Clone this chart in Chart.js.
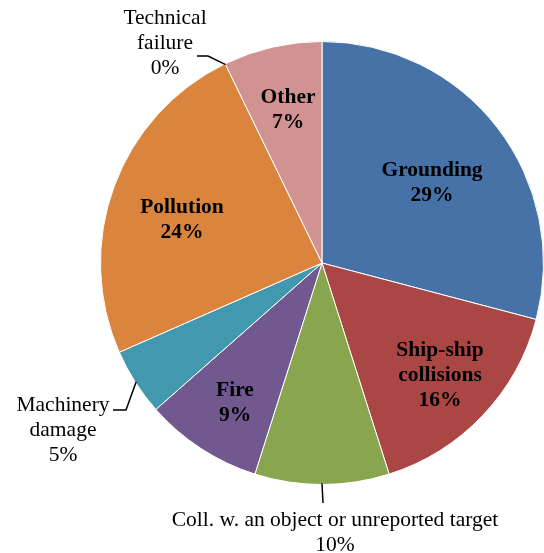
<!DOCTYPE html>
<html>
<head>
<meta charset="utf-8">
<script src="https://cdn.jsdelivr.net/npm/chart.js@4/dist/chart.umd.min.js"></script>
<style>
  html, body { margin: 0; padding: 0; background: #fff; }
  #wrap { width: 544px; height: 553px; position: relative; }
</style>
</head>
<body>
<div id="wrap"><canvas id="pieChart"></canvas></div>
<script>
const categories = ['Grounding', 'Ship-ship collisions', 'Coll. w. an object or unreported target', 'Fire', 'Machinery damage', 'Pollution', 'Technical failure', 'Other'];
const shares = [29.1, 16.0, 9.8, 8.6, 4.9, 24.4, 0, 7.2];
const sliceColors = ['#4672A8', '#AA4643', '#89A54E', '#71588F', '#4198AF', '#DB843D', '#93A9CF', '#D19392'];

// how each label is written: name lines, bold or not, and where it sits
const labelSpecs = [
    { lines: ['Grounding'], bold: true, at: [432, 170] },
    { lines: ['Ship-ship', 'collisions'], bold: true, at: [440, 350] },
    { lines: ['Coll. w. an object or unreported target'], bold: false, at: [335, 520], leader: [[323, 503]] },
    { lines: ['Fire'], bold: true, at: [235, 390] },
    { lines: ['Machinery', 'damage'], bold: false, at: [63, 405], leader: [[126, 410], [113, 410]] },
    { lines: ['Pollution'], bold: true, at: [182, 207] },
    { lines: ['Technical', 'failure'], bold: false, at: [165, 18], leader: [[208, 56], [197, 56]] },
    { lines: ['Other'], bold: true, at: [288, 97] },
];

const sliceLabels = {
    id: 'sliceLabels',
    afterDatasetsDraw(chart) {
        const ctx = chart.ctx;
        const arcs = chart.getDatasetMeta(0).data;
        const values = chart.data.datasets[0].data;
        ctx.save();
        ctx.textAlign = 'center';
        ctx.textBaseline = 'middle';
        ctx.fillStyle = '#000';
        labelSpecs.forEach((spec, i) => {
            const arc = arcs[i];
            if (spec.leader) {
                const mid = (arc.startAngle + arc.endAngle) / 2;
                const ex = arc.x + Math.cos(mid) * (arc.outerRadius - 1);
                const ey = arc.y + Math.sin(mid) * (arc.outerRadius - 1);
                ctx.beginPath();
                ctx.strokeStyle = '#000';
                ctx.lineWidth = 1.5;
                ctx.moveTo(ex, ey);
                spec.leader.forEach((p) => ctx.lineTo(p[0], p[1]));
                ctx.stroke();
            }
            ctx.font = (spec.bold ? 'bold ' : '') + '21.5px "Liberation Serif", "Times New Roman", serif';
            const lines = spec.lines.concat([Math.round(values[i]) + '%']);
            lines.forEach((line, k) => {
                ctx.fillText(line, spec.at[0], spec.at[1] + k * 25);
            });
        });
        ctx.restore();
    },
};

new Chart(document.getElementById('pieChart'), {
    type: 'pie',
    data: {
        labels: categories,
        datasets: [{
            data: shares,
            backgroundColor: sliceColors,
            borderColor: '#fff',
            borderWidth: 1,
        }],
    },
    options: {
        responsive: true,
        maintainAspectRatio: false,
        animation: false,
        layout: { padding: { left: 100, right: 0, top: 41, bottom: 68 } },
        plugins: {
            legend: { display: false },
            tooltip: { enabled: false },
        },
    },
    plugins: [sliceLabels],
});
</script>
</body>
</html>
